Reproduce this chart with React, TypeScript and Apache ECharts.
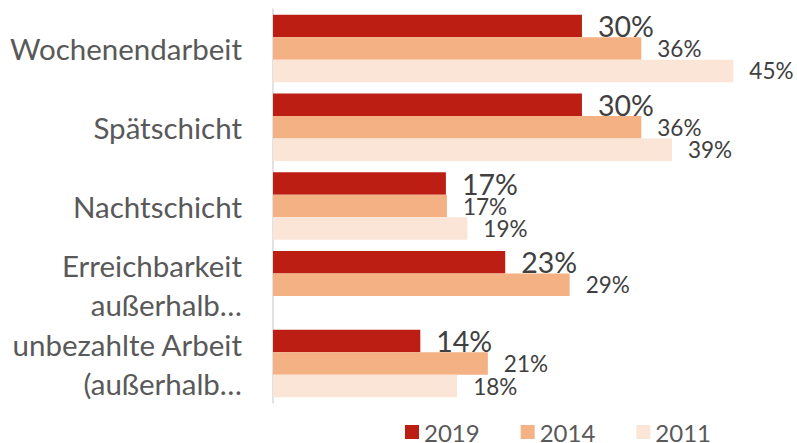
import React, { useEffect, useRef } from "react";
import * as echarts from "echarts";

const categories = [
  "Wochenendarbeit",
  "Spätschicht",
  "Nachtschicht",
  "Erreichbarkeit\naußerhalb…",
  "unbezahlte Arbeit\n(außerhalb…",
];
const seriesNames = ["2019", "2014", "2011"];
const values2019 = [30.2, 30.2, 16.9, 22.7, 14.4];
const values2014 = [36.0, 36.0, 17.0, 29.0, 21.0];
const values2011: (number | string)[] = [45.0, 39.0, 19.0, "-", 18.0];
const colors = ["#BC1E14", "#F4B183", "#FBE5D6"];

const FONT = "Lato";

export default function App() {
  const ref = useRef<HTMLDivElement>(null);
  useEffect(() => {
    document.body.style.margin = "0";
    if (!ref.current) return;
    const chart = echarts.init(ref.current, null, { renderer: "svg" });
    const seriesData = [values2019, values2014, values2011];
    chart.setOption({
      animation: false,
      textStyle: { fontFamily: FONT },
      grid: { left: 273, right: 12.5, top: 9, bottom: 40, containLabel: false },
      xAxis: {
        type: "value",
        min: 0,
        max: 50,
        show: false,
        splitLine: { show: false },
      },
      yAxis: {
        type: "category",
        inverse: true,
        data: categories,
        axisLine: { show: true, lineStyle: { color: "#D9D9D9", width: 1.5 } },
        axisTick: { show: false },
        axisLabel: {
          fontFamily: FONT,
          fontSize: 29.5,
          color: "#595959",
          margin: 31,
          lineHeight: 39,
          align: "right",
        },
      },
      legend: {
        left: 405,
        top: 420,
        padding: 0,
        itemWidth: 14,
        itemHeight: 14,
        itemGap: 41,
        icon: "rect",
        textStyle: { fontFamily: FONT, fontSize: 24, color: "#595959" },
        data: seriesNames,
      },
      series: seriesNames.map((name, i) => ({
        name,
        type: "bar",
        data: seriesData[i],
        barGap: "0%",
        barCategoryGap: "14.4%",
        itemStyle: { color: colors[i] },
        label: {
          show: true,
          position: "right",
          distance: 16,
          fontFamily: FONT,
          fontSize: i === 0 ? 28.5 : 22.5,
          color: "#404040",
          formatter: (p: any) => Math.round(p.value) + "%",
        },
      })),
    });
    return () => chart.dispose();
  }, []);
  return <div ref={ref} style={{ width: 797, height: 443 }} />;
}
